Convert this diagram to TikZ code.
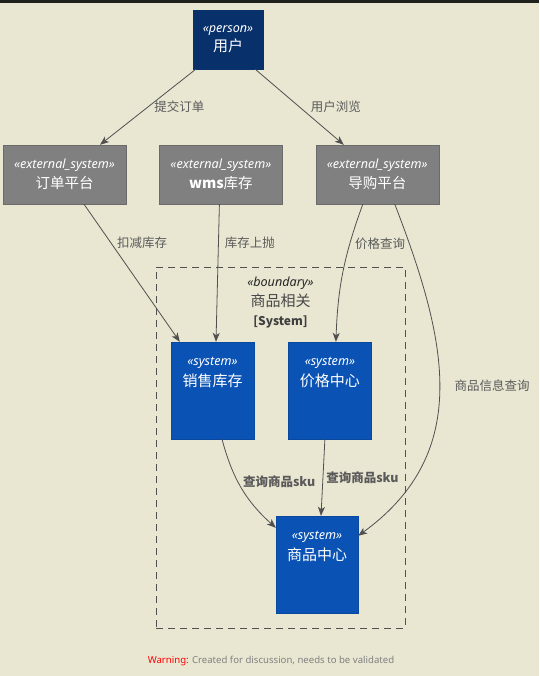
\documentclass[tikz,border=0pt]{standalone}
\usepackage{fontspec}
\setmainfont{Noto Sans}
\newfontfamily\cjk{Noto Sans CJK SC}
\usepackage{xcolor}
\usetikzlibrary{shapes,arrows,arrows.meta,positioning}

\definecolor{bgcol}{HTML}{E9E6D2}
\definecolor{topband}{HTML}{1E211C}
\definecolor{navy}{HTML}{08306B}
\definecolor{extgray}{HTML}{808080}
\definecolor{extline}{HTML}{6B6B6B}
\definecolor{sysblue}{HTML}{0A53B5}
\definecolor{sysline}{HTML}{0A479E}
\definecolor{relcol}{HTML}{505050}
\definecolor{labcol}{HTML}{5A5A5A}

\newcommand{\stereo}[1]{{\rmfamily\itshape\fontsize{12.6}{12}\selectfont «#1»}}

\begin{document}
\begin{tikzpicture}[x=1pt, y=-1pt, node distance=33pt,
  person/.style={draw=navy, fill=navy, text=white, minimum width=70pt, minimum height=59pt, inner sep=0pt, align=center, font=\cjk\fontsize{15}{19}\selectfont},
  extsys/.style={draw=extline, fill=extgray, text=white, minimum width=123pt, minimum height=59pt, inner sep=0pt, align=center, font=\cjk\fontsize{14.5}{20}\selectfont},
  sysbox/.style={draw=sysline, fill=sysblue, minimum width=83pt, minimum height=97pt, inner sep=0pt},
  systext/.style={text=white, anchor=north, inner sep=15.5pt, align=center, font=\cjk\fontsize{15}{20.5}\selectfont},
  rel/.style={draw=relcol, line width=0.8pt, -{Stealth[length=9pt,width=7pt,inset=2.5pt]}},
  rellabel/.style={text=labcol, anchor=west, inner sep=1pt, font=\cjk\fontsize{12.5}{14}\selectfont}]

  \fill[bgcol] (0,0) rectangle (539,676);
  \fill[topband] (0,0) rectangle (539,3);
  \useasboundingbox (0,0) rectangle (539,676);

  % people and outside systems
  \node[person] (user) at (228,39.5) {\stereo{person}\\用户};
  \node[extsys] (order) at (64.5,174.5) {\stereo{external\_system}\\订单平台};
  \node[extsys, right=of order] (wms) {\stereo{external\_system}\\{\bfseries wms}库存};
  \node[extsys, right=of wms] (guide) {\stereo{external\_system}\\导购平台};

  % boundary
  \node[draw=relcol, line width=1pt, dash pattern=on 7pt off 5pt, minimum width=249pt, minimum height=361pt] (bnd) at (280.5,447.5) {};
  \node[anchor=north, align=center, inner sep=10.5pt, font=\fontsize{12.6}{19.5}\selectfont] (bndlabel) at (bnd.north)
    {{\rmfamily\itshape\color{black!85} «boundary»}\\
     {\cjk\fontsize{15}{19.5}\selectfont\color{labcol!80!black}商品相关}\\
     {\cjk\bfseries\fontsize{12}{19.5}\selectfont\color{black!75}[System]}};

  % systems
  \node[sysbox, label={[systext]north:{\stereo{system}\\销售库存}}] (sales) at (212.5,390.5) {};
  \node[sysbox, right=34pt of sales, label={[systext]north:{\stereo{system}\\价格中心}}] (price) {};
  \node[sysbox, minimum width=82pt, label={[systext]north:{\stereo{system}\\商品中心}}] (goods) at (317,564.5) {};

  % relations
  \draw[rel] ([xshift=3pt]user.south west) -- ([xshift=35.5pt]order.north)
    node[rellabel, pos=0.5, xshift=5pt] {提交订单};
  \draw[rel] ([xshift=-8pt]user.south east) -- ([xshift=-33.5pt]guide.north)
    node[rellabel, pos=0.5, xshift=10pt] {用户浏览};
  \draw[rel] ([xshift=19.5pt]order.south) -- ([xshift=9pt]sales.north west)
    node[rellabel, pos=0.28, xshift=5pt] {扣减库存};
  \draw[rel] ([xshift=-1.5pt]wms.south) -- ([xshift=3.5pt]sales.north)
    node[rellabel, pos=0.28, xshift=5pt] {库存上抛};
  \draw[rel] ([xshift=-14.5pt]guide.south) to[out=-110, in=88]
    node[rellabel, pos=0.28, xshift=4pt] {价格查询} ([xshift=6pt]price.north);
  \draw[rel] ([xshift=17.5pt]guide.south) to[out=-69, in=36, looseness=1.1]
    node[rellabel, pos=0.49, xshift=14pt] {商品信息查询} ([yshift=-20pt]goods.north east);
  \draw[rel] ([xshift=9.5pt]sales.south) to[out=-75, in=138]
    node[rellabel, pos=0.42, xshift=4pt, font=\cjk\bfseries\fontsize{12.5}{14}\selectfont] {查询商品sku} ([yshift=-12pt]goods.north west);
  \draw[rel] ([xshift=-5pt]price.south) -- ([xshift=4pt]goods.north)
    node[rellabel, pos=0.5, xshift=2pt, font=\cjk\bfseries\fontsize{12.5}{14}\selectfont] {查询商品sku};

  % footer
  \node[font=\rmfamily\fontsize{9.6}{11}\selectfont] (warn) at (271,661)
    {\textcolor{red}{Warning:} \textcolor{gray}{Created for discussion, needs to be validated}};
\end{tikzpicture}
\end{document}
